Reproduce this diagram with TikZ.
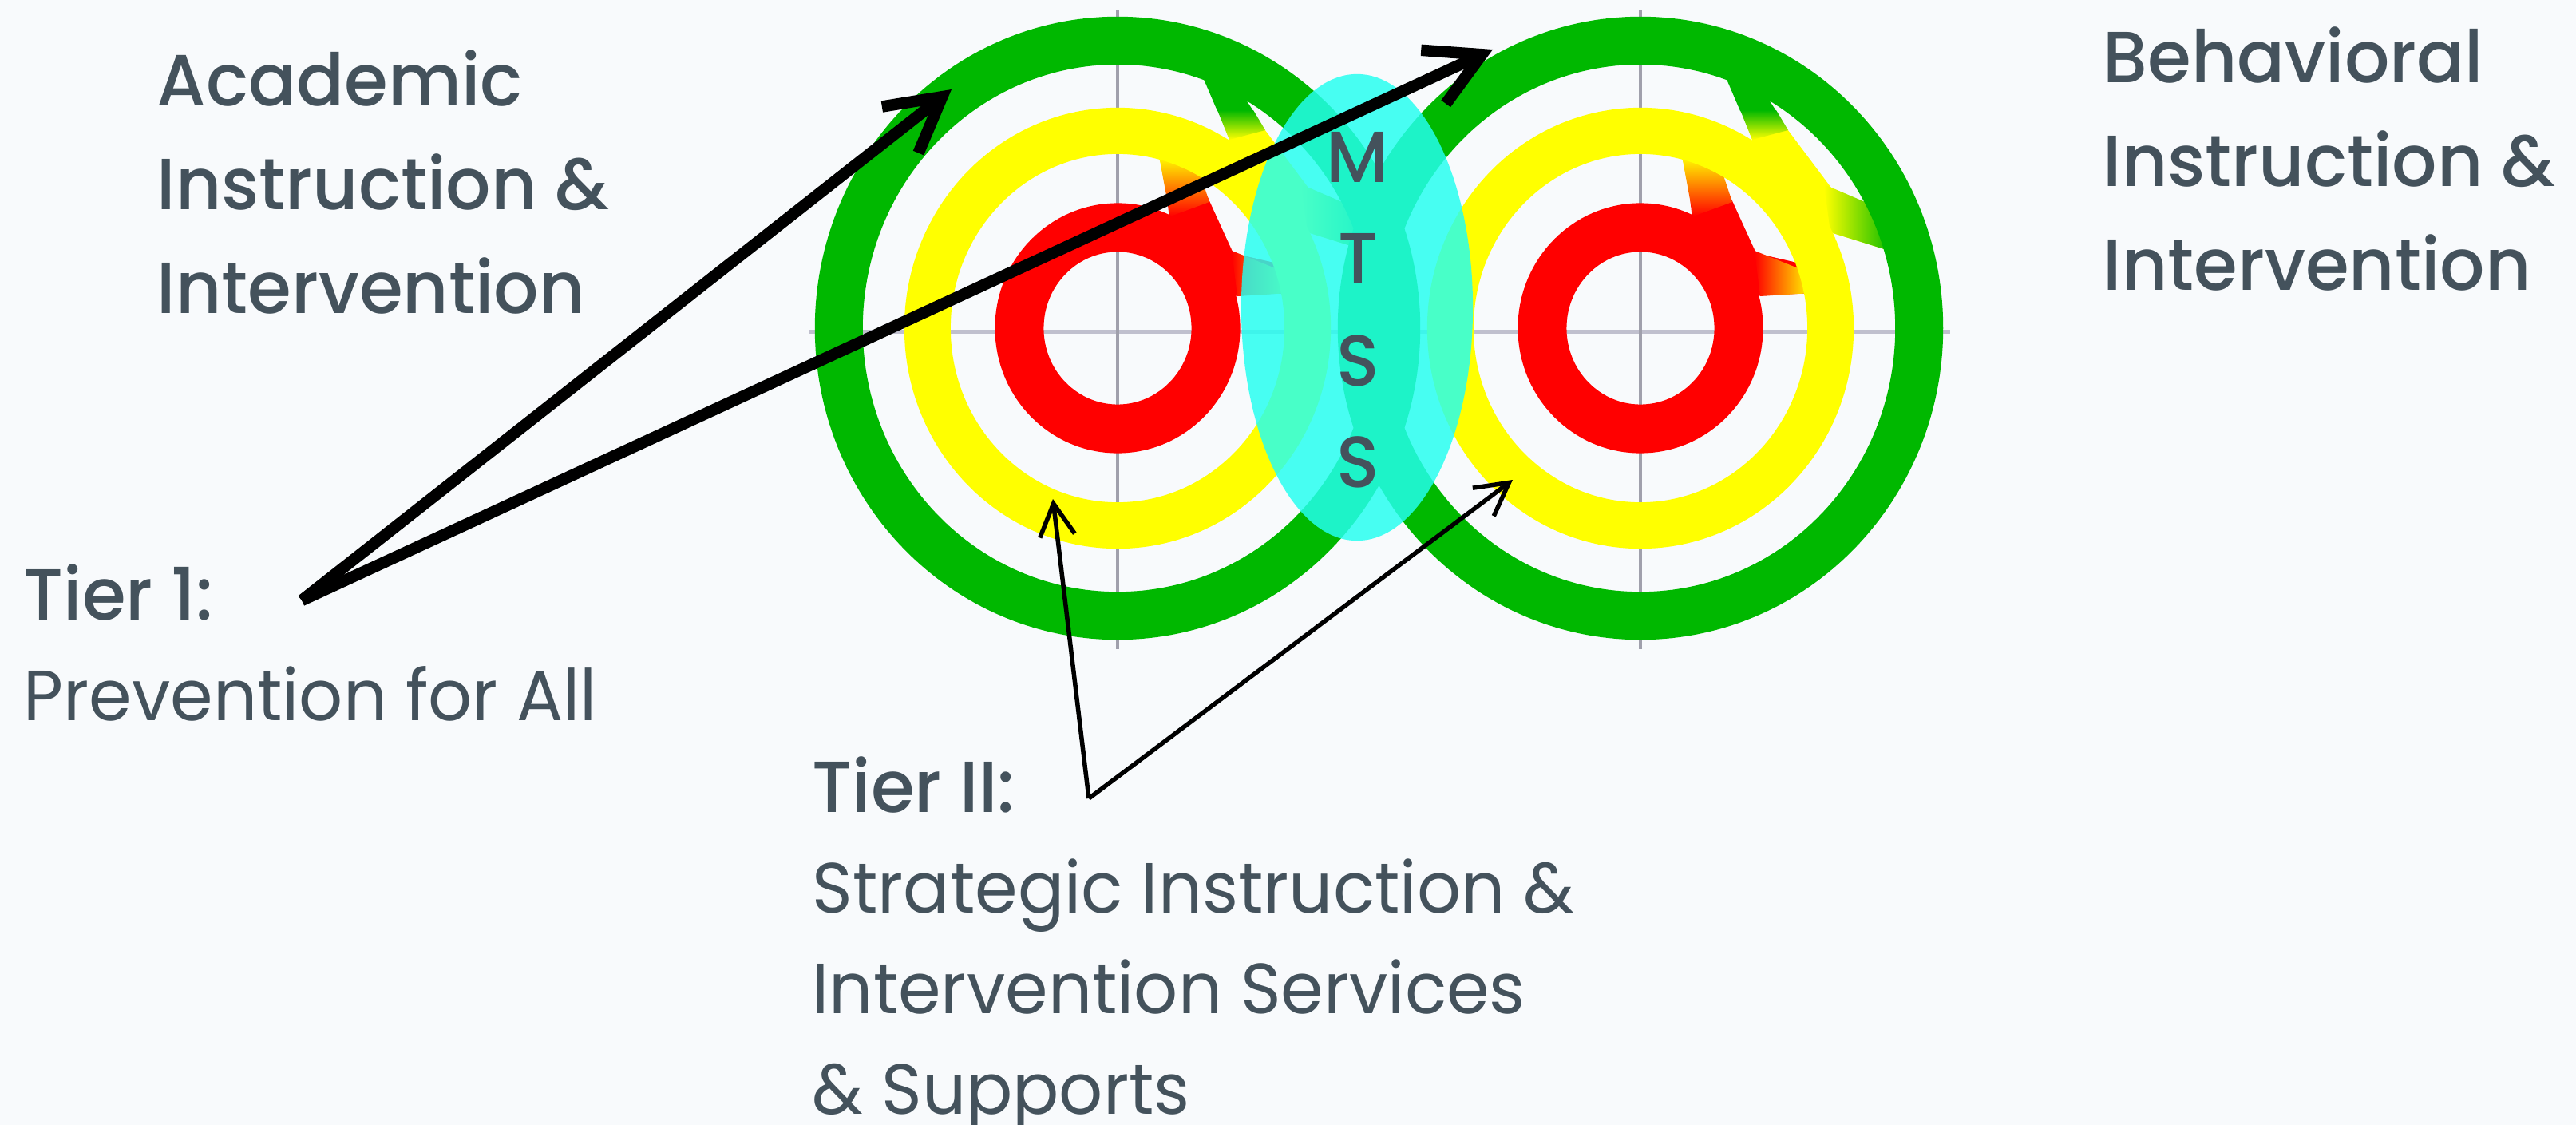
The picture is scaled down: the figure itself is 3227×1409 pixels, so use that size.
\documentclass[tikz,border=0pt]{standalone}
\usepackage{fontspec}
\setmainfont{Poppins}[BoldFont={Poppins Medium}]
\usepackage{graphicx}
\usetikzlibrary{arrows.meta}

\definecolor{bgc}{RGB}{248,250,252}
\definecolor{ink}{RGB}{68,82,92}
\definecolor{ringgreen}{RGB}{0,184,0}
\definecolor{ringyellow}{RGB}{255,255,0}
\definecolor{ringred}{RGB}{255,0,0}
\definecolor{ringorange}{RGB}{255,130,0}
\definecolor{gridv}{RGB}{160,160,172}
\definecolor{gridh}{RGB}{192,192,206}
\definecolor{mtsscyan}{RGB}{36,255,241}

\newcommand\labelsize{\fontsize{26}{30}\selectfont}
\newsavebox\probe
\newlength\probew
\newlength\probeh
% bold and regular lines, stretched to the measured widths/cap heights
\newcommand\bl[1]{\scalebox{\bsx}[\bsy]{\labelsize\bfseries #1}}
\newcommand\rl[1]{\scalebox{\rsx}[\rsy]{\labelsize #1}}

% one target: spiral joints in the upper right, then the three rings
\newcommand\target[1]{%
\begin{scope}[shift={#1}]
  % yellow bulge between yellow and green ring
  \fill[ringyellow] (100,-345) -- (140,-236) -- (130,-225) -- (238,-120)
     -- (318,-95) -- (280,-215) -- (200,-295) -- (140,-330) -- cycle;
  \fill[bgc] (152,-292) -- (242,-172) -- (300,-140) -- (200,-290) -- cycle;
  \shade[left color=ringyellow, right color=ringgreen]
     (230,-180) -- (300,-150) -- (318,-95) -- (238,-120) -- cycle;
  \fill[ringgreen] (98,-335) -- (152,-300) -- (170,-272) -- (125,-272) -- cycle;
  \shade[top color=ringgreen, bottom color=ringyellow]
     (125,-273) -- (170,-273) -- (185,-248) -- (140,-236) -- cycle;
  % red bulge between red and yellow ring
  \fill[ringred] (55,-225) -- (68,-110) -- (140,-40) -- (215,-44)
     -- (215,-80) -- (180,-150) -- (110,-215) -- cycle;
  \fill[bgc] (98,-197) -- (145,-94) -- (205,-80) -- (150,-180) -- (100,-205) -- cycle;
  \shade[top color=ringyellow, middle color=ringorange, bottom color=ringred]
     (52,-215) -- (100,-203) -- (115,-158) -- (66,-140) -- cycle;
  \shade[left color=ringred, right color=ringyellow]
     (143,-97) -- (200,-74) -- (214,-44) -- (150,-40) -- cycle;
  % rings
  \draw[ringgreen, line width=0.60cm] (0,0) ellipse [x radius=3.49cm, y radius=3.60cm];
  \draw[ringyellow, line width=0.58cm] (0,0) ellipse [x radius=2.38cm, y radius=2.47cm];
  \draw[ringred, line width=0.61cm] (0,0) ellipse [x radius=1.23cm, y radius=1.26cm];
\end{scope}}

\tikzset{
  thickarrow/.style={line width=0.145cm, black,
    -{Straight Barb[length=19pt, width=21pt]}},
  thinarrow/.style={line width=0.055cm, black,
    -{Straight Barb[length=11.5pt, width=12.5pt]}},
  labeltext/.style={anchor=base west, inner sep=0pt, text=ink},
  mtssletter/.style={anchor=base, inner sep=0pt, text=ink},
}

\begin{document}%
% font metrics for the labels
\sbox\probe{\labelsize\bfseries Instruction \&}\setlength\probew{\wd\probe}%
\sbox\probe{\labelsize\bfseries H}\setlength\probeh{\ht\probe}%
\pgfmathsetmacro\bsx{161.04/\probew}%
\pgfmathsetmacro\bsy{17.93/\probeh}%
\sbox\probe{\labelsize Strategic Instruction \&}\setlength\probew{\wd\probe}%
\sbox\probe{\labelsize H}\setlength\probeh{\ht\probe}%
\pgfmathsetmacro\rsx{271.44/\probew}%
\pgfmathsetmacro\rsy{17.64/\probeh}%
\begin{tikzpicture}[x=0.01cm, y=-0.01cm]
  \fill[bgc] (0,0) rectangle (3227,1409);
  \useasboundingbox (0,0) rectangle (3227,1409);

  % axes behind the targets
  \draw[gridh, line width=0.05cm] (1014,415) -- (2443,415);
  \draw[gridv, line width=0.04cm] (1400,12) -- (1400,813);
  \draw[gridv, line width=0.04cm] (2055,12) -- (2055,813);

  \target{(1400,411)}
  \target{(2055,411)}

  % MTSS overlap
  \fill[mtsscyan, fill opacity=0.83] (1700,385) ellipse [x radius=1.45cm, y radius=2.92cm];
  \node[mtssletter] (m1) at (1701,228) {\bl{M}};
  \node[mtssletter] (m2) at (1701,355) {\bl{T}};
  \node[mtssletter] (m3) at (1701,483) {\bl{S}};
  \node[mtssletter] (m4) at (1701,610) {\bl{S}};

  % labels
  \node[labeltext] (aca1) at (196,132) {\bl{Academic}};
  \node[labeltext] (aca2) at (196,262) {\bl{Instruction \&}};
  \node[labeltext] (aca3) at (196,392) {\bl{Intervention}};

  \node[labeltext] (beh1) at (2634,103) {\bl{Behavioral}};
  \node[labeltext] (beh2) at (2634,233) {\bl{Instruction \&}};
  \node[labeltext] (beh3) at (2634,363) {\bl{Intervention}};

  \node[labeltext] (t1a) at (29,776) {\bl{Tier 1:}};
  \node[labeltext] (t1b) at (29,902) {\rl{Prevention for All}};

  \node[labeltext] (t2a) at (1017,1017) {\bl{Tier II:}};
  \node[labeltext] (t2b) at (1017,1143) {\rl{Strategic Instruction \&}};
  \node[labeltext] (t2c) at (1017,1269) {\rl{Intervention Services}};
  \node[labeltext] (t2d) at (1017,1395) {\rl{\& Supports}};

  % pointers
  \coordinate (tierone) at (378,752);
  \coordinate (acatip) at (1192,112);
  \coordinate (behtip) at (1870,62);
  \coordinate (tiertwo) at (1364,1000);
  \coordinate (ytipL) at (1319,625);
  \coordinate (ytipR) at (1895,601);

  \draw[thickarrow] (tierone) -- (acatip);
  \draw[thickarrow] (tierone) -- (behtip);
  \draw[thinarrow] (tiertwo) -- (ytipL);
  \draw[thinarrow] (tiertwo) -- (ytipR);
\end{tikzpicture}
\end{document}
